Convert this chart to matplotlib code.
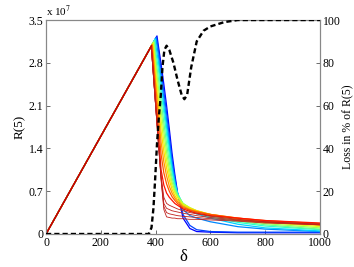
import numpy as np
import matplotlib
matplotlib.use("Agg")
import matplotlib.pyplot as plt

plt.rcParams['font.family'] = ['Liberation Serif', 'DejaVu Serif']
plt.rcParams['mathtext.fontset'] = 'stix'

# ---- data (R in units of 1e7) ----
grid = [400, 410, 420, 430, 440, 450, 460, 470, 480, 500, 525, 550, 600, 700, 800, 1000]

peak_delta = [405, 403, 401, 399, 397, 395, 393, 391, 389, 388, 386, 385]
peak_R = [3.24, 3.22, 3.21, 3.19, 3.18, 3.16, 3.14, 3.13, 3.11, 3.10, 3.09, 3.08]
curves_R = [
    [None, 3.08, 2.78, 2.45, 2.10, 1.72, 1.32, 0.98, 0.68, 0.26, 0.09, 0.04, 0.03, 0.02, 0.02, 0.02],
    [None, 3.02, 2.68, 2.33, 1.98, 1.60, 1.22, 0.92, 0.66, 0.32, 0.14, 0.07, 0.04, 0.03, 0.03, 0.03],
    [None, 2.92, 2.56, 2.22, 1.86, 1.50, 1.15, 0.88, 0.66, 0.40, 0.30, 0.26, 0.20, 0.12, 0.08, 0.04],
    [3.10, 2.82, 2.45, 2.10, 1.75, 1.40, 1.07, 0.84, 0.67, 0.47, 0.38, 0.33, 0.26, 0.16, 0.10, 0.05],
    [3.00, 2.70, 2.33, 1.98, 1.63, 1.30, 1.01, 0.80, 0.66, 0.49, 0.40, 0.35, 0.28, 0.19, 0.13, 0.07],
    [2.90, 2.55, 2.17, 1.82, 1.48, 1.17, 0.92, 0.75, 0.64, 0.50, 0.42, 0.37, 0.30, 0.21, 0.15, 0.08],
    [2.80, 2.40, 2.02, 1.67, 1.34, 1.06, 0.85, 0.71, 0.62, 0.50, 0.43, 0.38, 0.31, 0.23, 0.17, 0.10],
    [2.70, 2.25, 1.86, 1.51, 1.21, 0.97, 0.79, 0.68, 0.60, 0.49, 0.43, 0.38, 0.32, 0.24, 0.19, 0.12],
    [2.55, 2.10, 1.68, 1.35, 1.08, 0.88, 0.73, 0.63, 0.56, 0.47, 0.42, 0.38, 0.32, 0.25, 0.20, 0.14],
    [2.45, 1.95, 1.50, 1.18, 0.95, 0.78, 0.67, 0.59, 0.53, 0.45, 0.40, 0.37, 0.32, 0.26, 0.21, 0.15],
    [2.30, 1.78, 1.30, 1.00, 0.82, 0.70, 0.61, 0.55, 0.50, 0.43, 0.39, 0.36, 0.32, 0.26, 0.22, 0.17],
    [2.15, 1.60, 1.05, 0.80, 0.67, 0.60, 0.55, 0.50, 0.47, 0.41, 0.37, 0.34, 0.30, 0.26, 0.22, 0.18],
]

knee_peak_delta = [384, 384, 384, 384]
knee_peak_R = [3.07, 3.07, 3.07, 3.07]
knee_R = [
    [2.10, 1.50, 0.95, 0.60, 0.50, 0.47, 0.45, 0.43, 0.41, 0.38, 0.35, 0.33, 0.29, 0.24, 0.20, 0.16],
    [2.10, 1.50, 0.92, 0.50, 0.42, 0.40, 0.38, 0.37, 0.36, 0.34, 0.32, 0.30, 0.27, 0.23, 0.20, 0.16],
    [2.10, 1.50, 0.90, 0.45, 0.35, 0.33, 0.32, 0.31, 0.30, 0.29, 0.28, 0.27, 0.25, 0.22, 0.19, 0.15],
    [2.10, 1.50, 0.88, 0.40, 0.28, 0.27, 0.26, 0.26, 0.25, 0.25, 0.24, 0.24, 0.23, 0.21, 0.18, 0.15],
]

loss_delta = [0, 375, 385, 392, 398, 405, 412, 419, 425, 432, 440, 450, 465, 480, 495, 505,
              515, 530, 550, 575, 600, 650, 700, 1000]
loss_pct = [0, 0, 3, 12, 25, 42, 55, 65, 78, 86, 88, 86, 80, 72, 65, 63,
            65, 78, 90, 95, 97, 99, 100, 100]

x_ticks = [0, 200, 400, 600, 800, 1000]
y_ticks = [0, 0.7, 1.4, 2.1, 2.8, 3.5]
y2_ticks = [0, 20, 40, 60, 80, 100]

# ---- figure ----
fig = plt.figure(figsize=(3.54, 2.67), dpi=100)
ax = fig.add_axes([0.130, 0.1236, 0.774, 0.8014])
ax2 = ax.twinx()

cmap = plt.get_cmap('jet')
n = len(curves_R)


def build(pd, pr, vals):
    xs = [0, pd]
    ys = [0, pr]
    for g, v in zip(grid, vals):
        if v is None or g <= pd:
            continue
        xs.append(g)
        ys.append(v)
    return xs, ys


for i in range(n):
    xs, ys = build(peak_delta[i], peak_R[i], curves_R[i])
    c = cmap(0.12 + 0.77 * i / (n - 1))
    ax.plot(xs, ys, color=c, lw=0.9, zorder=2 + i * 0.01)

for k in range(len(knee_R)):
    xs, ys = build(knee_peak_delta[k], knee_peak_R[k], knee_R[k])
    ax.plot(xs, ys, color='#c0201c', lw=0.6, zorder=2.5)

ax.plot([0, peak_delta[-1]], [0, peak_R[-1]], color='#c00000', lw=0.8, zorder=3)

ax2.plot(loss_delta, loss_pct, color='black', lw=1.7, ls=(0, (2.2, 1.3)), zorder=4)

ax.set_xlim(0, 1000)
ax.set_ylim(0, 3.5)
ax2.set_ylim(0, 100)
ax.set_xticks(x_ticks)
ax.set_yticks(y_ticks)
ax.set_yticklabels([('%g' % v) for v in y_ticks])
ax2.set_yticks(y2_ticks)

for a in (ax, ax2):
    a.tick_params(direction='in', length=3, width=0.6, color='#555555',
                  labelsize=8.5, pad=2)
    for s in a.spines.values():
        s.set_color('#888888')
        s.set_linewidth(0.8)

ax.set_xlabel('δ', fontsize=12, labelpad=0)
ax.set_ylabel('R(5)', fontsize=9.5, labelpad=2)
ax2.set_ylabel('Loss in % of R(5)', fontsize=8.5, labelpad=1)
ax.text(0.0, 1.005, 'x 10$^{7}$', transform=ax.transAxes, fontsize=8,
        ha='left', va='bottom')

fig.savefig('out.png', dpi=100)
